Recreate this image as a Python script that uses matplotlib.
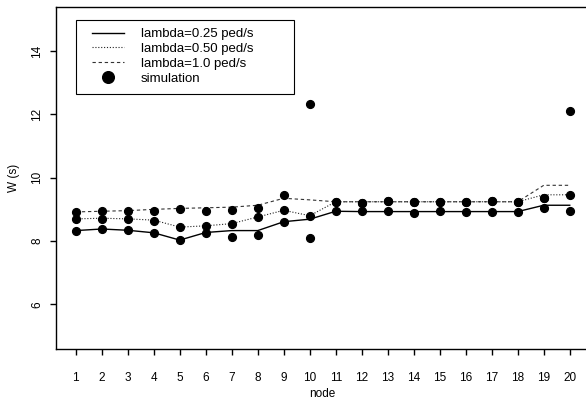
import matplotlib
matplotlib.use("Agg")
import matplotlib.pyplot as plt
from matplotlib.lines import Line2D
from matplotlib.patches import Rectangle

plt.rcParams['font.family'] = ['Liberation Sans', 'DejaVu Sans']

nodes = list(range(1, 21))

lam025 = [8.33, 8.38, 8.34, 8.26, 8.03, 8.27, 8.33, 8.33, 8.61, 8.69,
          8.94, 8.93, 8.93, 8.93, 8.93, 8.93, 8.93, 8.93, 9.13, 9.13]
lam050 = [8.70, 8.72, 8.70, 8.66, 8.44, 8.48, 8.55, 8.76, 8.97, 8.80,
          9.24, 9.24, 9.24, 9.24, 9.24, 9.24, 9.24, 9.24, 9.46, 9.46]
lam100 = [8.92, 8.94, 8.96, 9.00, 9.03, 9.05, 9.07, 9.13, 9.35, 9.30,
          9.24, 9.24, 9.24, 9.24, 9.24, 9.24, 9.24, 9.24, 9.76, 9.76]

sim025 = [8.32, 8.38, 8.34, 8.25, 8.03, 8.25, 8.13, 8.20, 8.61, 8.10,
          8.94, 8.94, 8.96, 8.90, 8.94, 8.92, 8.93, 8.91, 9.03, 8.95]
sim050 = [8.70, 8.71, 8.70, 8.64, 8.44, 8.48, 8.55, 8.76, 8.97, 8.80,
          9.24, 9.20, 9.25, 9.24, 9.23, 9.22, 9.25, 9.22, 9.37, 9.46]
sim100 = [8.92, 8.94, 8.95, 8.96, 9.00, 8.96, 8.97, 9.04, 9.45, 12.32,
          9.24, 9.20, 9.25, 9.24, 9.23, 9.22, 9.25, 9.22, 9.37, 12.12]

labels = ['lambda=0.25 ped/s', 'lambda=0.50 ped/s', 'lambda=1.0 ped/s', 'simulation']
yticks = [6, 8, 10, 12, 14]

W, H = 586, 403
fig = plt.figure(figsize=(W / 100, H / 100), dpi=100)
left, right, bottom, top = 56, 589.5, 348.7, 6.7
ax = fig.add_axes([left / W, 1 - bottom / H, (right - left) / W, (bottom - top) / H])

dot_style = (0, (1, 1.6))
dash_style = (0, (3, 2.5))
ax.plot(nodes, lam025, color='black', lw=1.0, linestyle='-')
ax.plot(nodes, lam050, color='#222222', lw=0.8, linestyle=dot_style)
ax.plot(nodes, lam100, color='#333333', lw=0.8, linestyle=dash_style)
for s in (sim025, sim050, sim100):
    ax.plot(nodes, s, linestyle='none', marker='o', ms=5.6, color='black')

ax.set_xlim(0.24, 20.76)
ax.set_ylim(4.6, 15.4)
ax.set_xticks(nodes)
ax.set_xticklabels([str(n) for n in nodes])
ax.set_yticks(yticks)
ax.set_yticklabels([str(v) for v in yticks], rotation=90, va='center')
ax.tick_params(axis='x', length=4, width=1, pad=13, labelsize=8.5)
ax.tick_params(axis='y', length=4, width=1, pad=5, labelsize=8.5)
for sp in ax.spines.values():
    sp.set_linewidth(1.0)

ax.set_xlabel('node', fontsize=8.5, labelpad=3)
ax.set_ylabel('W (s)', fontsize=8.5, labelpad=8)

handles = [
    Line2D([], [], color='black', lw=1.0, linestyle='-'),
    Line2D([], [], color='#222222', lw=0.8, linestyle=dot_style),
    Line2D([], [], color='#333333', lw=0.8, linestyle=dash_style),
    Line2D([], [], color='black', linestyle='none', marker='o', ms=8.4),
]
fs = 9.5
leg = fig.legend(handles, labels, loc='upper left',
                 bbox_to_anchor=(92 / W, 1 - 28 / H),
                 bbox_transform=fig.transFigure,
                 borderaxespad=0, borderpad=0, fontsize=fs, frameon=False,
                 handlelength=32 * 0.72 / fs, handletextpad=17 * 0.72 / fs,
                 labelspacing=0.2)

# legend box (R style)
fig.patches.append(Rectangle((75.7 / W, 1 - 94 / H), (294 - 75.7) / W, (94 - 20) / H,
                             transform=fig.transFigure, fill=False,
                             edgecolor='black', lw=0.8, zorder=5))

fig.savefig('out.png', dpi=100)
